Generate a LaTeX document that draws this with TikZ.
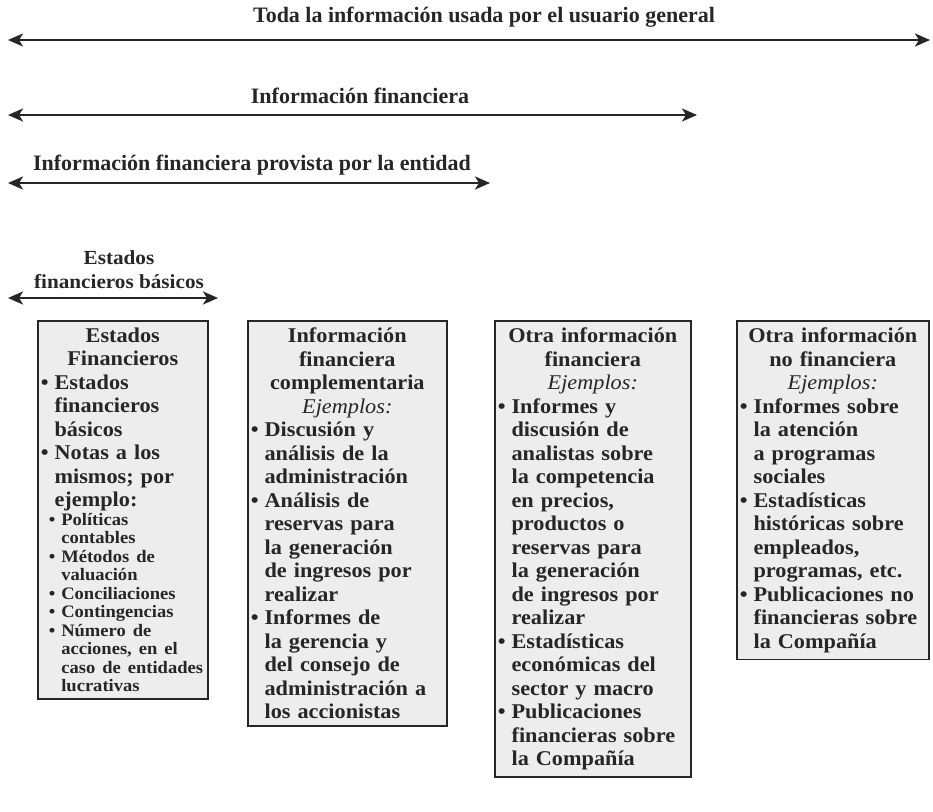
\documentclass[tikz,border=0pt]{standalone}
\usepackage{fontspec}
\setmainfont{Liberation Serif}[FakeStretch=1.06]
\newfontfamily\lblfont{Liberation Serif}
\usetikzlibrary{arrows.meta}
\definecolor{boxfill}{HTML}{EDEDED}
\definecolor{ink}{HTML}{262626}
\newlength\bw
\newcommand\mainsz{\fontsize{21}{23.5}\selectfont}
\newcommand\smsz{\fontsize{17.5}{18.5}\selectfont}
\newcommand\nl{\newline}
\newcommand\bul{\textbullet\hspace{6pt}}
\newcommand\hd[1]{{\centering #1\par}}
\newcommand\ej{{\centering\mdseries\itshape Ejemplos:\par}}
\newcommand\bitem[1]{\par\noindent\settowidth\bw{\bul}\hangindent=\bw\hangafter=1 \bul #1\par}
\newcommand\sitem[1]{\par\noindent\settowidth\bw{\bul}\hangindent=\dimexpr\bw+8pt\relax\hangafter=1 \hspace*{8pt}\bul #1\par}
\tikzset{
  infobox/.style={draw=ink, line width=1.6pt, fill=boxfill, anchor=north west,
    inner xsep=3pt, inner ysep=7pt, font=\mainsz\bfseries\raggedright, text=ink},
  toplabel/.style={font=\lblfont\fontsize{22}{25}\selectfont\bfseries, text=ink},
  span/.style={draw=ink, line width=2.6pt,
    {Stealth[length=15pt,width=13pt,inset=4pt]}-{Stealth[length=15pt,width=13pt,inset=4pt]}}
}
\begin{document}
\begin{tikzpicture}[x=1pt,y=-1pt]
\useasboundingbox (0,0) rectangle (933,811);
% top spans
\coordinate (a1l) at (8,40);  \coordinate (a1r) at (930,40);
\draw[span] (a1l) -- (a1r);
\node[toplabel] (t1) at (484,17) {Toda la información usada por el usuario general};
\coordinate (a2l) at (8,115);  \coordinate (a2r) at (697,115);
\draw[span] (a2l) -- (a2r);
\node[toplabel] (t2) at (360,96) {Información financiera};
\coordinate (a3l) at (8,183);  \coordinate (a3r) at (490,183);
\draw[span] (a3l) -- (a3r);
\node[toplabel] (t3) at (252,165) {Información financiera provista por la entidad};
\coordinate (a4l) at (8,298);  \coordinate (a4r) at (218,298);
\draw[span] (a4l) -- (a4r);
\node[font=\fontsize{20}{24}\selectfont\bfseries, text=ink, align=center] (t4) at (119,270) {Estados\\financieros básicos};
% boxes
\node[infobox, text width=164pt] (b1) at (37,320) {%
\hd{Estados\\Financieros}
\bitem{Estados\nl financieros\nl básicos}
\bitem{Notas a los\nl mismos; por\nl ejemplo:}
{\smsz
\sitem{Políticas\nl contables}
\sitem{Métodos de\nl valuación}
\sitem{Conciliaciones}
\sitem{Contingencias}
\sitem{Número de\nl acciones, en el\nl caso de entidades\nl lucrativas}}};
\node[infobox, text width=193pt] (b2) at (247,320) {%
\hd{Información\\financiera\\complementaria}
\ej
\bitem{Discusión y\nl análisis de la\nl administración}
\bitem{Análisis de\nl reservas para\nl la generación\nl de ingresos por\nl realizar}
\bitem{Informes de\nl la gerencia y\nl del consejo de\nl administración a\nl los accionistas}};
\node[infobox, text width=190pt] (b3) at (494,320) {%
\hd{Otra información\\financiera}
\ej
\bitem{Informes y\nl discusión de\nl analistas sobre\nl la competencia\nl en precios,\nl productos o\nl reservas para\nl la generación\nl de ingresos por\nl realizar}
\bitem{Estadísticas\nl económicas del\nl sector y macro}
\bitem{Publicaciones\nl financieras sobre\nl la Compañía}};
\node[infobox, text width=186pt] (b4) at (736,320) {%
\hd{Otra información\\no financiera}
\ej
\bitem{Informes sobre\nl la atención\nl a programas\nl sociales}
\bitem{Estadísticas\nl históricas sobre\nl empleados,\nl programas, etc.}
\bitem{Publicaciones no\nl financieras sobre\nl la Compañía}};
\end{tikzpicture}
\end{document}
